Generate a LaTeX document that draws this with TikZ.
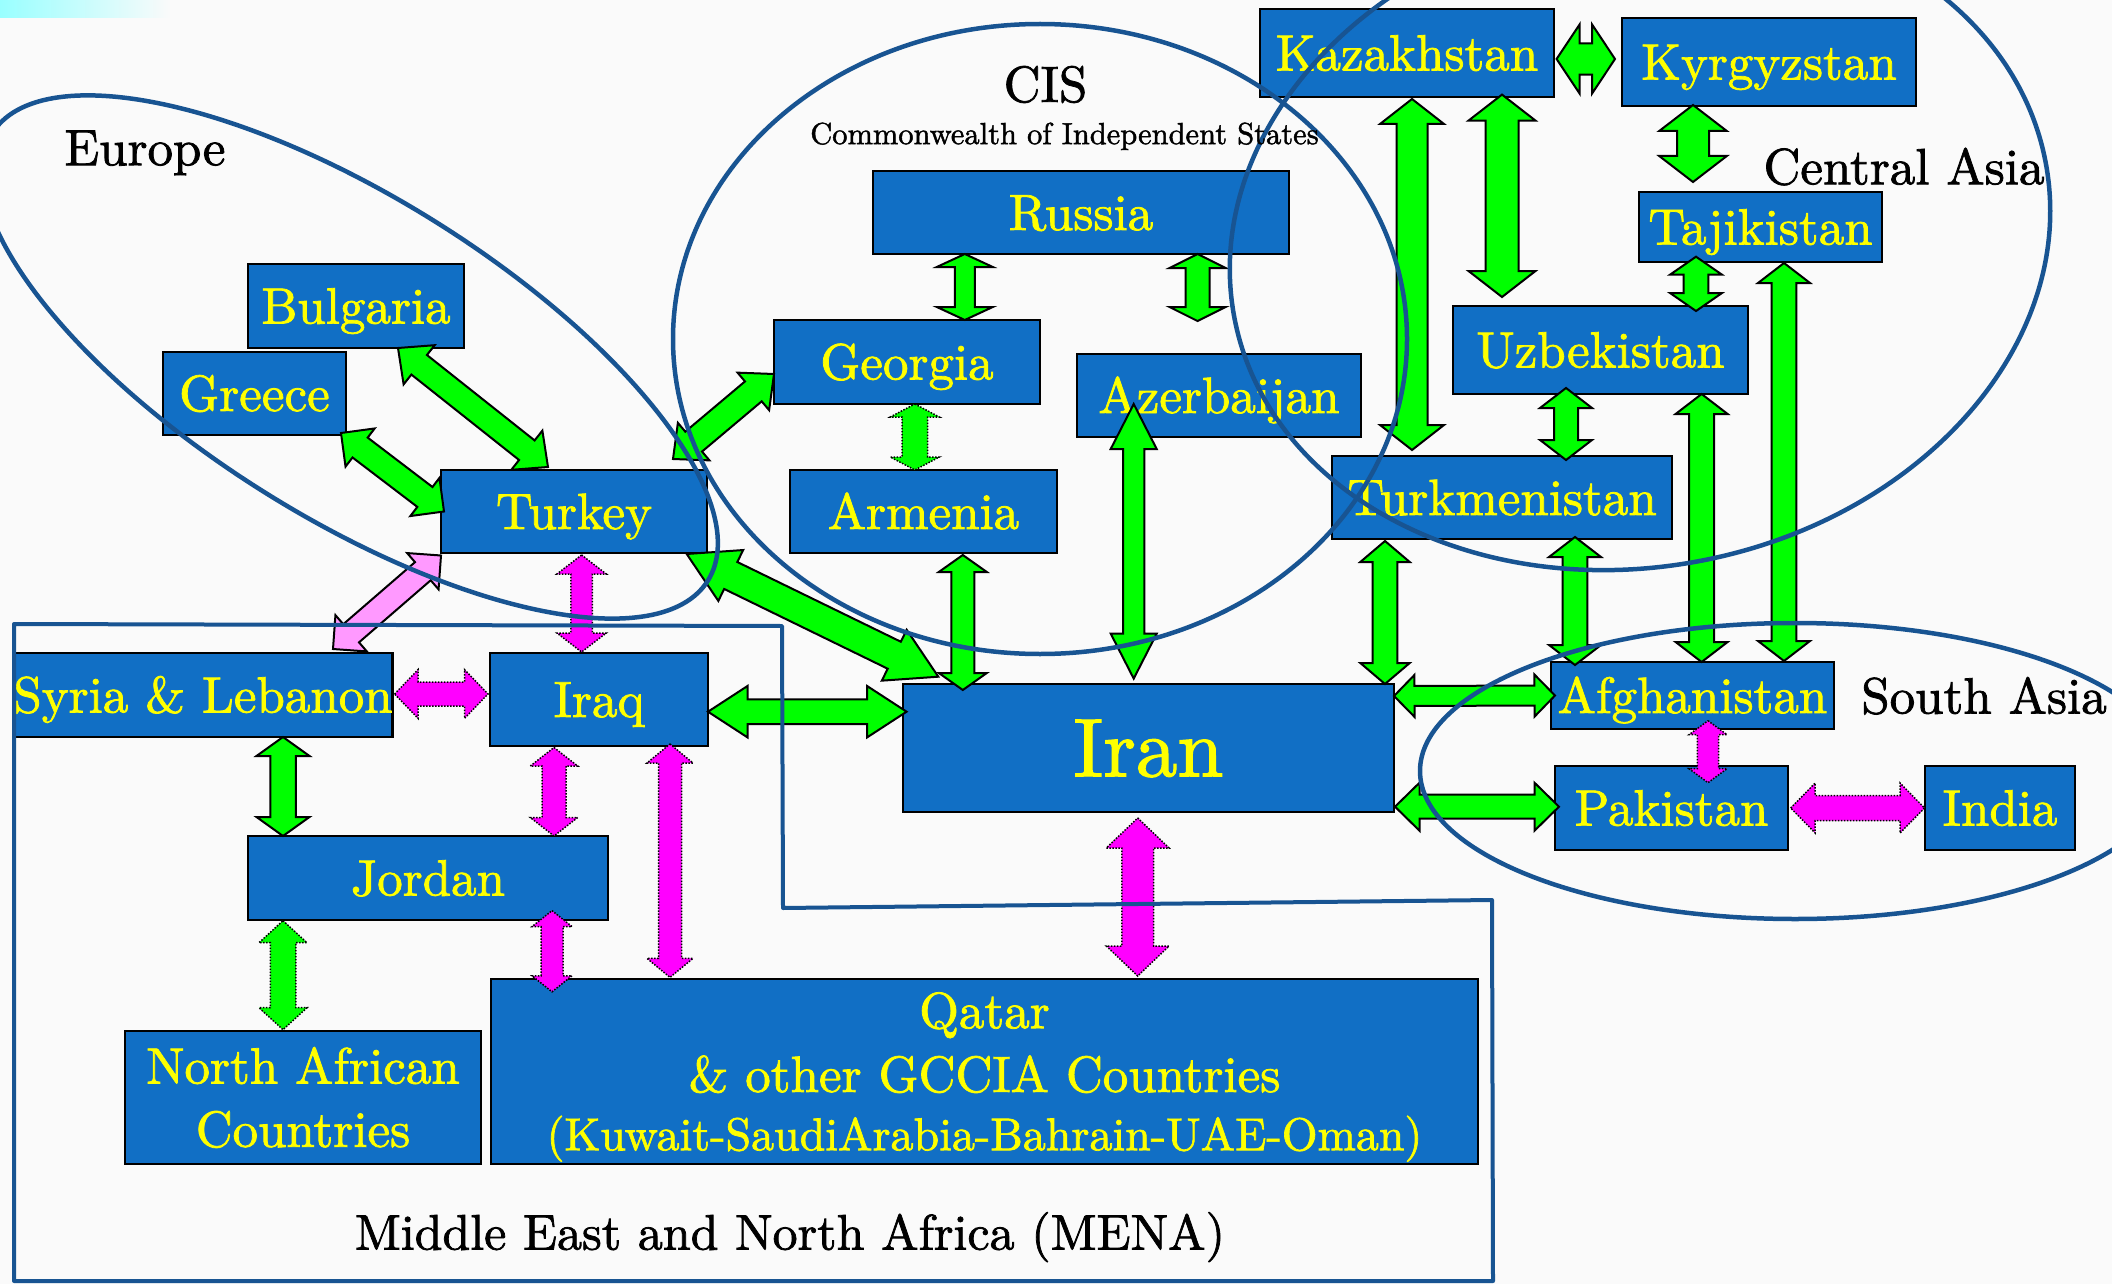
\documentclass[tikz,border=0pt]{standalone}
\usepackage{fontspec}
\setmainfont{lmroman10-regular.otf}[FakeBold=1.5]
\usetikzlibrary{calc}
\definecolor{boxblue}{RGB}{17,111,197}
\definecolor{ellblue}{RGB}{24,84,146}
\definecolor{grn}{RGB}{0,255,0}
\definecolor{mag}{RGB}{255,0,255}
\definecolor{pnk}{RGB}{255,153,255}
\definecolor{bgc}{RGB}{250,250,250}
\definecolor{yel}{RGB}{255,255,0}
% double-headed block arrow: [style]{from}{to}{head half width}{shaft half width}{head length}
\newcommand\dbl[6][garr]{%
  \coordinate (dA) at (#2);
  \coordinate (dB) at (#3);
  \draw[#1] (dA)
    -- ($(dA)!#6pt!(dB)!#4pt!90:(dB)$)
    -- ($(dA)!#6pt!(dB)!#5pt!90:(dB)$)
    -- ($(dB)!#6pt!(dA)!#5pt!-90:(dA)$)
    -- ($(dB)!#6pt!(dA)!#4pt!-90:(dA)$)
    -- (dB)
    -- ($(dB)!#6pt!(dA)!#4pt!90:(dA)$)
    -- ($(dB)!#6pt!(dA)!#5pt!90:(dA)$)
    -- ($(dA)!#6pt!(dB)!#5pt!-90:(dB)$)
    -- ($(dA)!#6pt!(dB)!#4pt!-90:(dB)$)
    -- cycle;}
\begin{document}
\begin{tikzpicture}[x=1pt,y=-1pt,
  cbox/.style={draw=black, line width=2.5pt, fill=boxblue, text=yel, inner sep=0pt, outer sep=0pt,
    font=\fontsize{51}{63.3}\selectfont, text height=35pt, text depth=0pt},
  mbox/.style={draw=black, line width=2.5pt, fill=boxblue, text=yel, inner sep=0pt, outer sep=0pt,
    font=\fontsize{51}{63.3}\selectfont, align=center},
  btxt/.style={text=yel, inner sep=0pt, align=center, font=\fontsize{51}{63.7}\selectfont},
  lbl/.style={text=black, inner sep=0pt, font=\fontsize{51}{60}\selectfont, text height=35pt, text depth=0pt},
  garr/.style={fill=grn, draw=black, line width=2pt, line join=miter},
  gdot/.style={fill=grn, draw=black, line width=1.5pt, dash pattern=on 1.5pt off 1.5pt},
  mdot/.style={fill=mag, draw=black, line width=1.5pt, dash pattern=on 1.5pt off 1.5pt},
  parr/.style={fill=pnk, draw=black, line width=2pt},
  grp/.style={draw=ellblue, line width=4.5pt}
]
\useasboundingbox (0,0) rectangle (2112,1284);
\clip (0,0) rectangle (2112,1284);
\fill[bgc] (0,0) rectangle (2112,1284);
\shade[left color=cyan!40!white, right color=bgc] (0,0) rectangle (170,18);

% ---------- boxes ----------
\node[cbox, minimum width=216pt, minimum height=84pt] (bulgaria) at (356,306) {Bulgaria};
\node[cbox, minimum width=183pt, minimum height=83pt] (greece) at (254.5,393.5) {Greece};
\node[cbox, minimum width=266pt, minimum height=83pt] (turkey) at (574,511.5) {Turkey};
\node[cbox, minimum width=416pt, minimum height=83pt] (russia) at (1081,212.5) {Russia};
\node[cbox, minimum width=266pt, minimum height=84pt] (georgia) at (907,362) {Georgia};
\node[cbox, minimum width=284pt, minimum height=83pt] (azerbaijan) at (1219,395.5) {Azerbaijan};
\node[cbox, minimum width=267pt, minimum height=83pt] (armenia) at (923.5,511.5) {Armenia};
\node[cbox, minimum width=294pt, minimum height=88pt] (kazakhstan) at (1407,53) {Kazakhstan};
\node[cbox, minimum width=294pt, minimum height=88pt] (kyrgyzstan) at (1769,62) {Kyrgyzstan};
\node[cbox, minimum width=243pt, minimum height=70pt] (tajikistan) at (1760.5,227) {Tajikistan};
\node[cbox, minimum width=295pt, minimum height=88pt] (uzbekistan) at (1600.5,350) {Uzbekistan};
\node[cbox, minimum width=340pt, minimum height=83pt] (turkmenistan) at (1502,497.5) {Turkmenistan};
\node[cbox, minimum width=376pt, minimum height=84pt] (syria) at (203,695) {Syria \& Lebanon};
\node[cbox, minimum width=218pt, minimum height=93pt] (iraq) at (599,699.5) {Iraq};
\node[cbox, minimum width=360pt, minimum height=84pt] (jordan) at (428,878) {Jordan};
\node[mbox, minimum width=356pt, minimum height=133pt] (nafrica) at (303,1097.5) {North African\\Countries};
\node[cbox, minimum width=987pt, minimum height=185pt] (qatar) at (984.5,1071.5) {};
\node[btxt] (qatartext) at ([yshift=-5.5pt]qatar.center) {Qatar\\ \& other GCCIA Countries\\[-5.4pt]{\fontsize{46}{58}\selectfont(Kuwait-SaudiArabia-Bahrain-UAE-Oman)}};
\node[cbox, font=\fontsize{83}{96}\selectfont, text height=56.7pt, minimum width=491pt, minimum height=128pt] (iran) at (1148.5,748) {Iran};
\node[cbox, minimum width=283pt, minimum height=67pt] (afghanistan) at (1692.5,695.5) {Afghanistan};
\node[cbox, minimum width=233pt, minimum height=84pt] (pakistan) at (1671.5,808) {Pakistan};
\node[cbox, minimum width=150pt, minimum height=84pt] (india) at (2000,808) {India};

% ---------- arrows ----------
\dbl[garr]{[xshift=42pt]bulgaria.south}{[xshift=-26pt,yshift=3pt]turkey.north}{25}{12.5}{27}
\dbl[garr]{[xshift=-5pt,yshift=2pt]greece.south east}{[xshift=3pt]turkey.west}{24}{12.5}{24}
\dbl[garr]{[xshift=99pt,yshift=11pt]turkey.north}{[yshift=-12pt]georgia.west}{24.5}{13}{27}
\dbl[garr]{[xshift=-116.2pt]russia.south}{[xshift=57.8pt]georgia.north}{28}{10}{13}
\dbl[garr]{[xshift=116.5pt]russia.south}{[xshift=-21.5pt,yshift=33pt]azerbaijan.north}{28}{12}{14}
\dbl[gdot]{[xshift=7.8pt]georgia.south}{[xshift=-8.7pt]armenia.north}{24.5}{12.75}{13}
\dbl[parr]{[yshift=-2.5pt]turkey.south west}{[xshift=130pt,yshift=4pt]syria.north}{24}{12}{24}
\dbl[mdot]{[xshift=7.6pt,yshift=-2pt]turkey.south}{[xshift=-17.4pt,yshift=1pt]iraq.north}{24.7}{10.7}{19}
\dbl[garr]{[xshift=-20.3pt,yshift=-1pt]turkey.south east}{[xshift=35.3pt,yshift=7.3pt]iran.north west}{28.3}{15}{49}
\dbl[garr]{[xshift=39.3pt,yshift=-2pt]armenia.south}{[xshift=-185.7pt,yshift=-6pt]iran.north}{24}{11.5}{17}
\dbl[garr]{[xshift=-85.3pt,yshift=33pt]azerbaijan.south}{[xshift=-14.8pt,yshift=5.4pt]iran.north}{23}{10.7}{45}
\dbl[garr]{[xshift=5pt,yshift=-2pt]kazakhstan.south}{[xshift=-90pt,yshift=6pt]turkmenistan.north}{32}{15.5}{25}
\dbl[garr]{[xshift=95pt,yshift=2.4pt]kazakhstan.south}{[xshift=-98.5pt,yshift=9pt]uzbekistan.north}{33.5}{16.5}{26}
\dbl[garr]{[xshift=2.6pt,yshift=-6pt]kazakhstan.east}{[xshift=-7pt,yshift=3pt]kyrgyzstan.west}{34.6}{15.6}{23}
\dbl[garr]{[xshift=-76pt,yshift=1pt]kyrgyzstan.south}{[xshift=-67.5pt,yshift=10pt]tajikistan.north}{33.8}{16}{26}
\dbl[garr]{[xshift=-64.5pt,yshift=5.3pt]tajikistan.south}{[xshift=95.5pt,yshift=-5pt]uzbekistan.north}{26}{12.4}{18}
\dbl[garr]{[xshift=23.5pt,yshift=-1pt]tajikistan.south}{[xshift=91.5pt,yshift=1pt]afghanistan.north}{26}{12.4}{20}
\dbl[garr]{[xshift=101.1pt]uzbekistan.south}{[xshift=9.1pt]afghanistan.north}{26}{12.4}{20}
\dbl[garr]{[xshift=-34.5pt,yshift=6pt]uzbekistan.south}{[xshift=64pt,yshift=-4pt]turkmenistan.north}{26}{12}{20}
\dbl[garr]{[xshift=-117pt,yshift=-2pt]turkmenistan.south}{[xshift=236.5pt]iran.north}{24.7}{12.4}{21}
\dbl[garr]{[xshift=73pt,yshift=2pt]turkmenistan.south}{[xshift=-117.5pt,yshift=-3pt]afghanistan.north}{26}{12.4}{20}
\dbl[garr]{[yshift=-12pt]iran.north east}{[xshift=4pt]afghanistan.west}{21}{10}{20.5}
\dbl[garr]{[xshift=1pt,yshift=5.3pt]iran.south east}{[xshift=4pt,yshift=1.3pt]pakistan.west}{24}{12}{24.5}
\dbl[mdot]{[xshift=15.5pt,yshift=8.3pt]afghanistan.south}{[xshift=36.5pt,yshift=-16.7pt]pakistan.north}{19}{10.7}{14}
\dbl[mdot]{[xshift=2.7pt]pakistan.east}{[xshift=-0.5pt]india.west}{25}{12.5}{24.5}
\dbl[garr]{[yshift=-12.2pt]iraq.east}{[xshift=3.6pt,yshift=36.3pt]iran.west}{25.7}{12.4}{39.5}
\dbl[mdot]{[xshift=-10.8pt,yshift=-6pt]iran.south}{[xshift=153.2pt,yshift=3pt]qatar.north}{31.4}{15.8}{30}
\dbl[mdot]{[xshift=2pt,yshift=1pt]syria.east}{[xshift=-2pt,yshift=5.5pt]iraq.west}{24.4}{12}{23.5}
\dbl[garr]{[xshift=80pt]syria.south}{[xshift=-145pt]jordan.north}{26.5}{12.75}{19}
\dbl[mdot]{[xshift=-45pt,yshift=-1.5pt]iraq.south}{[xshift=126pt]jordan.north}{23.7}{12}{18.5}
\dbl[mdot]{[xshift=71pt,yshift=2pt]iraq.south}{[xshift=-314.5pt,yshift=1.6pt]qatar.north}{23}{11.5}{19}
\dbl[mdot]{[xshift=124pt,yshift=9.4pt]jordan.south}{[xshift=-432.5pt,yshift=-12.8pt]qatar.north}{20}{11}{16}
\dbl[gdot]{[xshift=-145pt,yshift=-0.7pt]jordan.south}{[xshift=-20pt,yshift=1.3pt]nafrica.north}{24}{12.75}{22}

% ---------- regions ----------
\draw[grp, rotate around={-32:(350,357)}] (350,357) ellipse [x radius=422pt, y radius=160pt];
\draw[grp] (1040,339) ellipse [x radius=367pt, y radius=315pt];
\draw[grp, rotate around={11:(1640,240)}] (1640,240) ellipse [x radius=413pt, y radius=326.5pt];
\draw[grp] (1795,771) ellipse [x radius=375pt, y radius=148pt];
\draw[grp, line width=4pt, line join=round] (14,624) -- (782,626) -- (783,908) -- (1492,900) -- (1493,1281) -- (14,1281) -- cycle;

% ---------- labels ----------
\node[lbl] (europe) at (145,147.75) {Europe};
\node[lbl] (cis) at (1045.5,84.4) {CIS};
\node[lbl, font=\fontsize{30.5}{36}\selectfont, text height=20.8pt] (cwis) at (1064.5,133.7) {Commonwealth of Independent States};
\node[lbl] (casia) at (1904,166.8) {Central Asia};
\node[lbl] (sasia) at (1984,696) {South Asia};
\node[lbl, font=\fontsize{50}{60}\selectfont, text height=34.2pt] (mena) at (790,1232.5) {Middle East and North Africa (MENA)};
\end{tikzpicture}
\end{document}
